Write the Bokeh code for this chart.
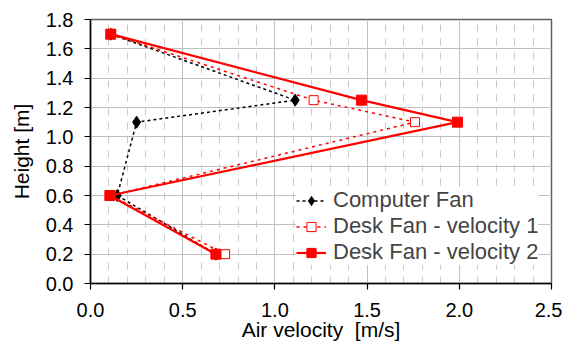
from bokeh.plotting import figure
from bokeh.models import SingleIntervalTicker, PrintfTickFormatter, Range1d, Legend
from bokeh.embed import file_html
from bokeh.resources import INLINE

# Data
height = [1.7, 1.25, 1.1, 0.6, 0.2]
computer_fan = [0.11, 1.11, 0.25, 0.145, 0.68]
desk_fan_v1 = [0.11, 1.21, 1.76, 0.11, 0.73]
desk_fan_v2 = [0.11, 1.47, 1.99, 0.105, 0.68]

labels = ["Computer Fan", "Desk Fan - velocity 1", "Desk Fan - velocity 2"]

FONT = "Liberation Sans"

p = figure(width=562, height=345, output_backend="svg", toolbar_location=None,
           x_range=Range1d(0, 2.5), y_range=Range1d(0, 1.8),
           min_border_left=90, min_border_right=11, min_border_top=19, min_border_bottom=62)
p.background_fill_color = "white"
p.border_fill_color = "white"
p.outline_line_color = "#606060"
p.outline_line_width = 1.5

# Series
l1 = p.line(computer_fan, height, line_color="black", line_width=1.5, line_dash="3 3")
s1 = p.scatter(computer_fan, height, marker="diamond", size=12, fill_color="black", line_color="black")
l2 = p.line(desk_fan_v1, height, line_color="#ff0000", line_width=1.5, line_dash="3 4")
s2 = p.scatter(desk_fan_v1, height, marker="square", size=9, fill_color="white", line_color="#ff0000", line_width=1)
l3 = p.line(desk_fan_v2, height, line_color="#ff0000", line_width=2.2)
s3 = p.scatter(desk_fan_v2, height, marker="square", size=10, fill_color="#ff0000", line_color="#ff0000")

legend = Legend(items=[(labels[0], [l1, s1]), (labels[1], [l2, s2]), (labels[2], [l3, s3])],
                location=(206, 18))
legend.background_fill_color = "white"
legend.background_fill_alpha = 1.0
legend.border_line_color = None
legend.label_text_font = FONT
legend.label_text_font_size = "22px"
legend.glyph_width = 30
legend.glyph_height = 23
legend.label_height = 23
legend.label_standoff = 7
legend.spacing = 0
legend.padding = 3
legend.margin = 0
p.add_layout(legend, "center")

# Axes
p.xaxis.ticker = SingleIntervalTicker(interval=0.5, num_minor_ticks=5)
p.yaxis.ticker = SingleIntervalTicker(interval=0.2, num_minor_ticks=0)
p.xaxis.formatter = PrintfTickFormatter(format="%.1f")
p.yaxis.formatter = PrintfTickFormatter(format="%.1f")
for ax in (p.xaxis, p.yaxis):
    ax.axis_line_color = "black"
    ax.axis_line_width = 1.5
    ax.major_tick_line_color = "black"
    ax.major_tick_line_width = 1.2
    ax.major_tick_out = 6
    ax.major_tick_in = 0
    ax.minor_tick_line_color = None
    ax.major_label_text_font = FONT
    ax.major_label_text_font_size = "20px"
    ax.major_label_text_color = "black"
    ax.axis_label_text_font = FONT
    ax.axis_label_text_font_size = "21px"
    ax.axis_label_text_font_style = "normal"
    ax.axis_label_text_color = "black"

p.xaxis.axis_label = "Air velocity\u00a0\u00a0[m/s]"
p.yaxis.axis_label = "Height [m]"
p.xaxis.major_label_standoff = 13
p.xaxis.axis_label_standoff = -2
p.yaxis.major_label_standoff = 11
p.yaxis.axis_label_standoff = 10

# Grid
p.xgrid.grid_line_color = "#c0c0c0"
p.xgrid.grid_line_width = 1
p.xgrid.minor_grid_line_color = "#c8c8c8"
p.xgrid.minor_grid_line_dash = "7 7"
p.xgrid.minor_grid_line_width = 1
p.ygrid.grid_line_color = "#c0c0c0"
p.ygrid.grid_line_width = 1

open("out.html", "w").write(file_html(p, INLINE))
